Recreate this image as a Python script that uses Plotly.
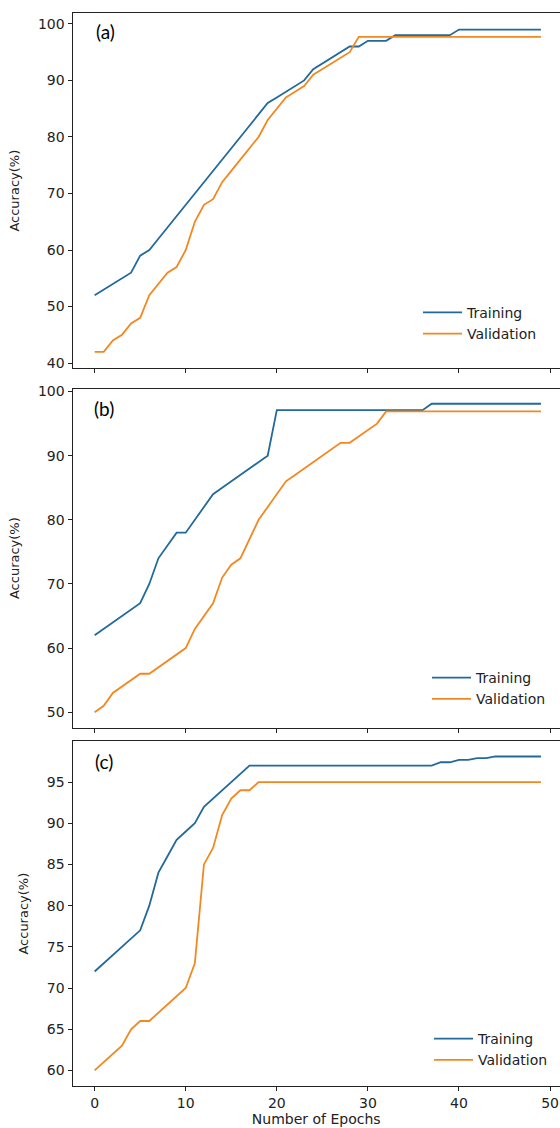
import plotly.graph_objects as go

epochs = list(range(50))

train_a = [52, 53, 54, 55, 56, 59, 60, 62, 64, 66, 68, 70, 72, 74, 76, 78, 80, 82, 84, 86,
           87, 88, 89, 90, 92, 93, 94, 95, 96, 96, 97, 97, 97, 98, 98, 98, 98, 98, 98, 98,
           99, 99, 99, 99, 99, 99, 99, 99, 99, 99]
val_a = [42, 42, 44, 45, 47, 48, 52, 54, 56, 57, 60, 65, 68, 69, 72, 74, 76, 78, 80, 83,
         85, 87, 88, 89, 91, 92, 93, 94, 95] + [97.7] * 21

train_b = [62, 63, 64, 65, 66, 67, 70, 74, 76, 78, 78, 80, 82, 84, 85, 86, 87, 88, 89, 90] \
          + [97.1] * 17 + [98.1] * 13
val_b = [50, 51, 53, 54, 55, 56, 56, 57, 58, 59, 60, 63, 65, 67, 71, 73, 74, 77, 80, 82,
         84, 86, 87, 88, 89, 90, 91, 92, 92, 93, 94, 95] + [96.9] * 18

train_c = [72, 73, 74, 75, 76, 77, 80, 84, 86, 88, 89, 90, 92, 93, 94, 95, 96] + [97] * 21 \
          + [97.4, 97.4, 97.7, 97.7, 97.9, 97.9] + [98.1] * 6
val_c = [60, 61, 62, 63, 65, 66, 66, 67, 68, 69, 70, 73, 85, 87, 91, 93, 94, 94] + [95] * 32

panel_labels = ["(a)", "(b)", "(c)"]
y_ticks = [[40, 50, 60, 70, 80, 90, 100], [50, 60, 70, 80, 90, 100], [60, 65, 70, 75, 80, 85, 90, 95]]
y_ranges = [[39.15, 101.85], [47.6, 100.45], [58.1, 99.95]]
x_ticks = [0, 10, 20, 30, 40, 50]
series_names = ["Training", "Validation"]

BLUE = "#22699c"
ORANGE = "#f2881f"
H = 1128.0
W = 560.0

# panel pixel boxes (top, bottom)
boxes = [(8.5, 365.5), (386.4, 727.8), (741.5, 1088.8)]
legend_centers = [(418, 320.5), (427, 688.5), (429, 1052)]
label_pos = [(105, 27), (104, 406), (104, 762)]

data = [(train_a, val_a), (train_b, val_b), (train_c, val_c)]

fig = go.Figure()
font_main = "DejaVu Sans"

for i, (tr, va) in enumerate(data):
    n = "" if i == 0 else str(i + 1)
    leg = "legend" if i == 0 else "legend" + str(i + 1)
    fig.add_trace(go.Scatter(x=epochs, y=tr, mode="lines", name=series_names[0],
                             line=dict(color=BLUE, width=1.8),
                             xaxis="x" + n, yaxis="y" + n, legend=leg))
    fig.add_trace(go.Scatter(x=epochs, y=va, mode="lines", name=series_names[1],
                             line=dict(color=ORANGE, width=1.8),
                             xaxis="x" + n, yaxis="y" + n, legend=leg))

layout = dict(
    width=560, height=1128,
    margin=dict(l=0, r=0, t=0, b=0),
    paper_bgcolor="white", plot_bgcolor="white",
    font=dict(family=font_main, size=13, color="#222222"),
    showlegend=True,
)

x0 = 72.5 / W
for i in range(3):
    n = "" if i == 0 else str(i + 1)
    top, bot = boxes[i]
    ydom = [1 - bot / H, 1 - top / H]
    xa = dict(
        domain=[x0, 1.0], range=[-2.43, 51.09], anchor="y" + n,
        tickvals=x_ticks, ticks="outside", ticklen=4, tickwidth=1, tickcolor="#222222",
        showline=True, linecolor="#222222", linewidth=1, mirror=True,
        showgrid=False, zeroline=False, showticklabels=(i == 2),
        tickfont=dict(size=14),
    )
    if i == 2:
        xa["title"] = dict(text="Number of Epochs", font=dict(size=14), standoff=2)
    ya = dict(
        domain=ydom, range=y_ranges[i], anchor="x" + n,
        tickvals=y_ticks[i], ticks="outside", ticklen=4, tickwidth=1, tickcolor="#222222",
        showline=True, linecolor="#222222", linewidth=1, mirror=False,
        showgrid=False, zeroline=False,
        tickfont=dict(size=14),
        title=dict(text="Accuracy(%)", font=dict(size=13)),
    )
    layout["xaxis" + n] = xa
    layout["yaxis" + n] = ya
    lx, ly = legend_centers[i]
    layout["legend" if i == 0 else "legend" + str(i + 1)] = dict(
        x=lx / W, y=1 - ly / H, xanchor="left", yanchor="middle",
        xref="paper", yref="paper",
        bgcolor="rgba(255,255,255,0)", borderwidth=0,
        font=dict(size=14, color="#222222"),
        itemwidth=39, tracegroupgap=0,
    )

fig.update_layout(**layout)

for i in range(3):
    lx, ly = label_pos[i]
    fig.add_annotation(text=panel_labels[i], x=lx / W, y=1 - ly / H, xref="paper", yref="paper",
                       showarrow=False, xanchor="center", yanchor="middle",
                       font=dict(family="Lato", size=19, color="#000000"))

fig.write_html("out.html", config={"displayModeBar": False},
               post_script="document.body.style.margin='0';document.body.style.padding='0';")
